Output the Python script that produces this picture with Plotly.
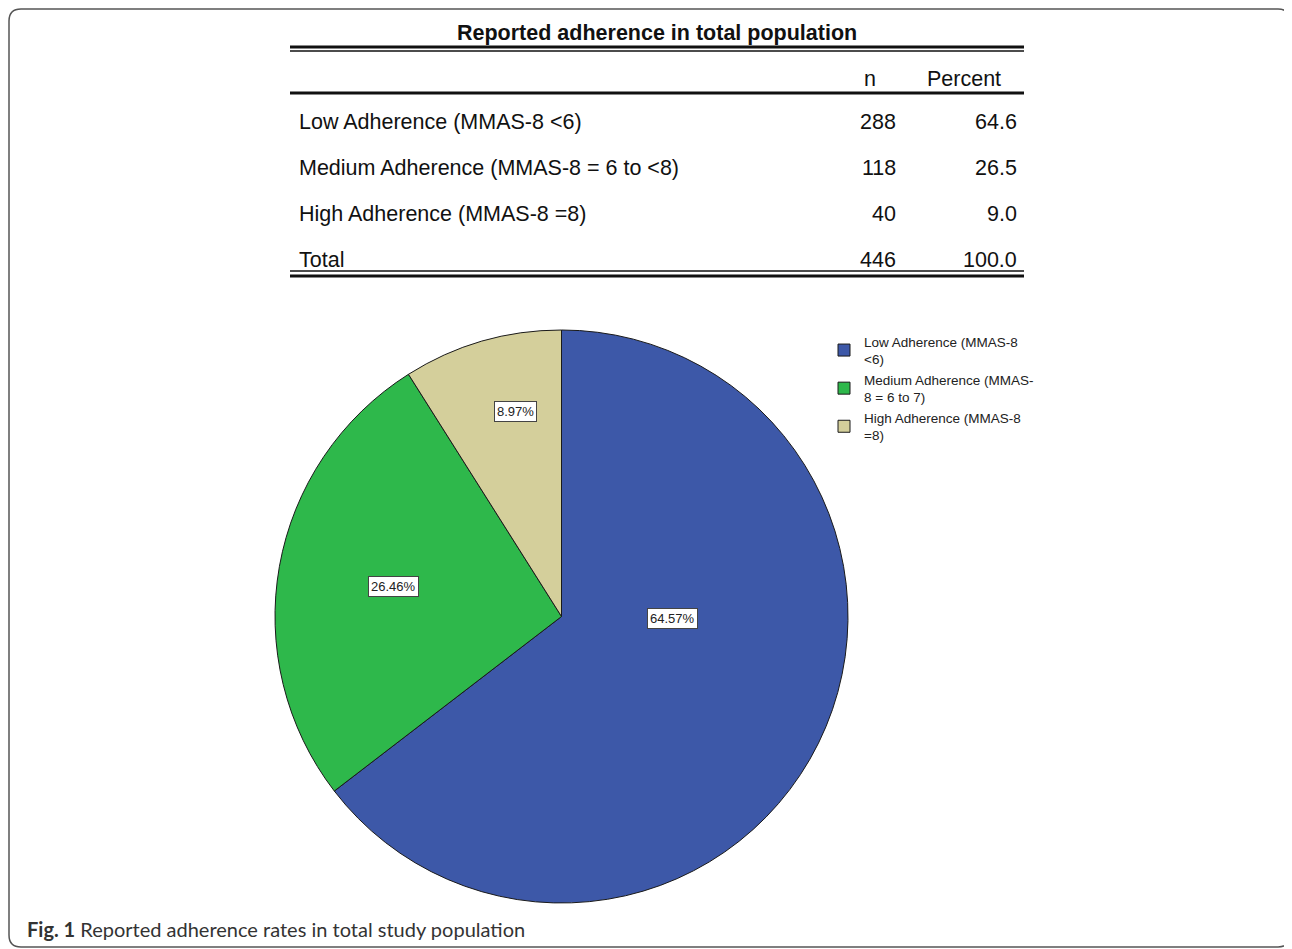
import math
import plotly.graph_objects as go

# ---------------- data ----------------
table_title = "Reported adherence in total population"
table_rows = ["Low Adherence (MMAS-8 &lt;6)", "Medium Adherence (MMAS-8 = 6 to &lt;8)",
              "High Adherence (MMAS-8 =8)", "Total"]
table_n = ["288", "118", "40", "446"]
table_pct = ["64.6", "26.5", "9.0", "100.0"]

pie_names = ["Low Adherence (MMAS-8<br>&lt;6)", "Medium Adherence (MMAS-<br>8 = 6 to 7)",
             "High Adherence (MMAS-8<br>=8)"]
pie_counts = [288, 118, 40]
pie_labels = ["64.57%", "26.46%", "8.97%"]
caption = "<b>Fig. 1</b> Reported adherence rates in total study population"

# ---------------- styling ----------------
OFF = 8                      # page body margin of the html page
W, H = 1292 - OFF, 949 - OFF
colors = ["#3d58a8", "#2eb84b", "#d4cf9b"]
pie_left, pie_right, pie_top, pie_bottom = 275, 848, 330, 903
label_r_frac = [0.386, 0.597, 0.735]
label_angle_shift = [-25.0, 0.0, 3.5]


def px(x):
    return (x - OFF) / W


def py(y):
    return 1 - (y - OFF) / H


fig = go.Figure()
fig.add_trace(go.Pie(
    labels=pie_names,
    values=pie_counts,
    sort=False,
    direction="clockwise",
    rotation=0,
    textinfo="none",
    hoverinfo="skip",
    marker=dict(colors=colors, line=dict(color="#1a1a1a", width=1)),
    domain=dict(x=[px(pie_left), px(pie_right)], y=[py(pie_bottom), py(pie_top)]),
))

annotations = []
shapes = []

# pie labels placed from the data (slice mid-angles)
cx = (pie_left + pie_right) / 2
cy = (pie_top + pie_bottom) / 2
R = (pie_right - pie_left) / 2
total = sum(pie_counts)
cum = 0
for i, v in enumerate(pie_counts):
    mid = (cum + v / 2) / total * 360 + label_angle_shift[i]
    cum += v
    r = label_r_frac[i] * R
    lx = cx + r * math.sin(math.radians(mid))
    ly = cy - r * math.cos(math.radians(mid))
    annotations.append(dict(
        x=px(lx), y=py(ly), xref="paper", yref="paper", text=pie_labels[i],
        showarrow=False, xanchor="center", yanchor="middle",
        font=dict(family="Liberation Sans, Arial", size=13, color="#222"),
        bgcolor="white", bordercolor="#444", borderwidth=1, borderpad=2,
    ))

# table
tfont = dict(family="Liberation Sans, Arial", size=21.5, color="#111")
annotations.append(dict(x=px(657), y=py(33), xref="paper", yref="paper",
                        text="<b>" + table_title + "</b>", showarrow=False,
                        xanchor="center", yanchor="middle",
                        font=dict(family="Liberation Sans, Arial", size=21.5, color="#111")))
annotations.append(dict(x=px(870), y=py(79), xref="paper", yref="paper", text="n",
                        showarrow=False, xanchor="center", yanchor="middle", font=tfont))
annotations.append(dict(x=px(964), y=py(79), xref="paper", yref="paper", text="Percent",
                        showarrow=False, xanchor="center", yanchor="middle", font=tfont))
row_y = [122, 168, 214, 260]
for i, lab in enumerate(table_rows):
    annotations.append(dict(x=px(297), y=py(row_y[i]), xref="paper", yref="paper", text=lab,
                            showarrow=False, xanchor="left", yanchor="middle", font=tfont))
    annotations.append(dict(x=px(898), y=py(row_y[i]), xref="paper", yref="paper", text=table_n[i],
                            showarrow=False, xanchor="right", yanchor="middle", font=tfont))
    annotations.append(dict(x=px(1019), y=py(row_y[i]), xref="paper", yref="paper", text=table_pct[i],
                            showarrow=False, xanchor="right", yanchor="middle", font=tfont))

for yy, wd in [(47, 3), (51, 1.5), (93, 3), (271, 1.5), (276, 3)]:
    shapes.append(dict(type="line", xref="paper", yref="paper",
                       x0=px(290), x1=px(1024), y0=py(yy), y1=py(yy),
                       line=dict(color="#111", width=wd)))

# caption
annotations.append(dict(x=px(25), y=py(929), xref="paper", yref="paper", text=caption,
                        showarrow=False, xanchor="left", yanchor="middle",
                        font=dict(family="Lato, Open Sans", size=20, color="#333")))

# rounded frame
l, t, r_, b, rad = 9, 9, 1290, 947, 12
path = (f"M {px(l)},{py(t + rad)} Q {px(l)},{py(t)} {px(l + rad)},{py(t)} "
        f"L {px(r_ - rad)},{py(t)} Q {px(r_)},{py(t)} {px(r_)},{py(t + rad)} "
        f"L {px(r_)},{py(b - rad)} Q {px(r_)},{py(b)} {px(r_ - rad)},{py(b)} "
        f"L {px(l + rad)},{py(b)} Q {px(l)},{py(b)} {px(l)},{py(b - rad)} Z")
shapes.append(dict(type="path", xref="paper", yref="paper", path=path,
                   line=dict(color="#555", width=1.5)))

fig.update_layout(
    width=W, height=H, autosize=False,
    margin=dict(l=0, r=0, t=0, b=0),
    paper_bgcolor="white", plot_bgcolor="white",
    showlegend=True,
    legend=dict(x=px(824), y=py(326), xanchor="left", yanchor="top",
                bgcolor="rgba(0,0,0,0)", itemwidth=30,
                font=dict(family="Liberation Sans, Arial", size=13.5, color="#222")),
    annotations=annotations,
    shapes=shapes,
)

fig.write_html("out.html")
